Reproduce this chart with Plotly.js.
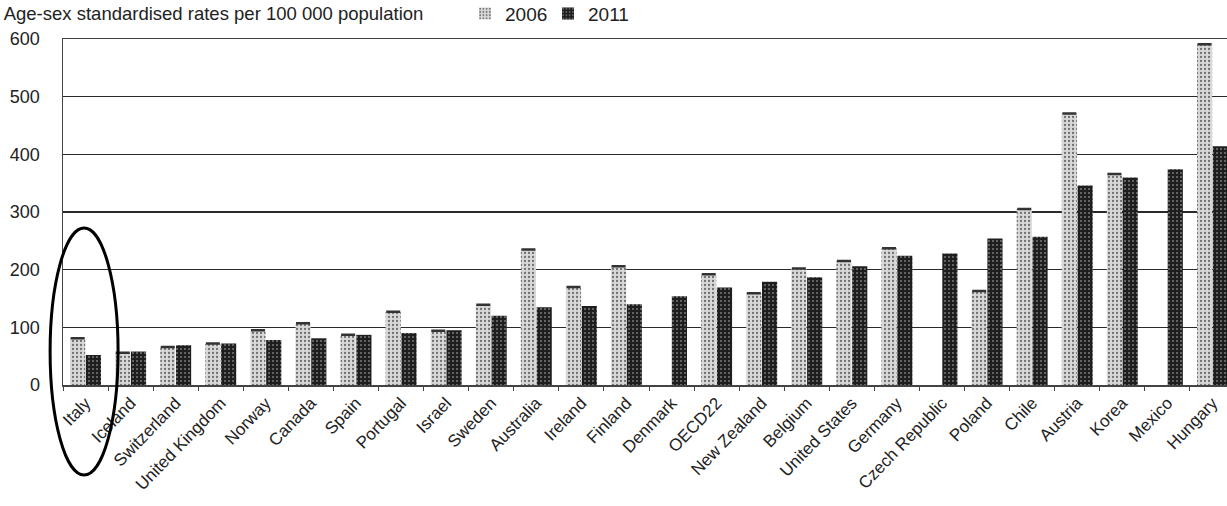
<!DOCTYPE html>
<html>
<head>
<meta charset="utf-8">
<script src="https://cdn.plot.ly/plotly-3.0.1.min.js"></script>
<style>
html,body{margin:0;padding:0;overflow:hidden;background:#fff;}
#chart{width:1236px;height:506px;}
</style>
</head>
<body>
<div id="chart"></div>
<script>
var categories = ["Italy","Iceland","Switzerland","United Kingdom","Norway","Canada","Spain","Portugal","Israel","Sweden","Australia","Ireland","Finland","Denmark","OECD22","New Zealand","Belgium","United States","Germany","Czech Republic","Poland","Chile","Austria","Korea","Mexico","Hungary"];
var values2006 = [81,56,66,72,95,107,87,127,94,139,235,170,206,null,192,159,202,215,237,null,163,305,471,366,null,591];
var values2011 = [52,58,69,72,78,81,87,90,95,120,135,137,140,154,169,179,187,206,224,228,254,257,346,360,374,414];
var yTicks = [0,100,200,300,400,500,600];

var trace2006 = {
  type:'bar', name:'2006', x:categories, y:values2006,
  marker:{color:'#d0d0d0', pattern:{shape:'.', bgcolor:'#d8d8d8', fgcolor:'#707070', size:4, solidity:0.25}},
  error_y:{type:'constant', value:0, width:7, thickness:2.5, color:'#333'}
};
var trace2011 = {
  type:'bar', name:'2011', x:categories, y:values2011,
  marker:{color:'#222', pattern:{shape:'.', bgcolor:'#1e1e1e', fgcolor:'#7a7a7a', size:4, solidity:0.2}}
};

var layout = {
  width:1236, height:506,
  margin:{l:63, r:1, t:39, b:121, autoexpand:false},
  paper_bgcolor:'#fff', plot_bgcolor:'#fff',
  font:{family:'Liberation Sans, Arial, sans-serif', color:'#222'},
  title:{text:'Age-sex standardised rates per 100 000 population', x:0.003, xanchor:'left', xref:'container', y:0.974, yanchor:'middle', yref:'container', font:{size:18.5, color:'#222'}},
  barmode:'group', bargap:0.3, bargroupgap:0.04,
  showlegend:true,
  legend:{orientation:'h', x:0.343, xanchor:'left', y:1.128, yanchor:'top', font:{size:19, color:'#222'}, itemwidth:30, entrywidth:38, entrywidthmode:'pixels', traceorder:'normal', bgcolor:'rgba(0,0,0,0)'},
  xaxis:{type:'category', automargin:false, tickangle:-46, tickfont:{size:17, color:'#222'}, ticks:'outside', tickson:'boundaries', ticklen:4, tickcolor:'#444', showline:true, mirror:true, linecolor:'#444', linewidth:1.5, showgrid:false},
  yaxis:{range:[0,600], automargin:false, tickvals:yTicks, ticktext:yTicks.map(String), tickfont:{size:18, color:'#222'}, showline:true, linecolor:'#444', linewidth:1.5, showgrid:true, gridcolor:'#2a2a2a', gridwidth:1.5, zeroline:false, ticks:'', ticklabelstandoff:18},
  shapes:[{type:'circle', xref:'paper', yref:'paper', x0:-0.011, x1:0.047, y0:-0.26, y1:0.454, line:{color:'#000', width:3}, layer:'above'}]
};

Plotly.newPlot('chart',[trace2006,trace2011],layout,{displayModeBar:false, staticPlot:true});
</script>
</body>
</html>
